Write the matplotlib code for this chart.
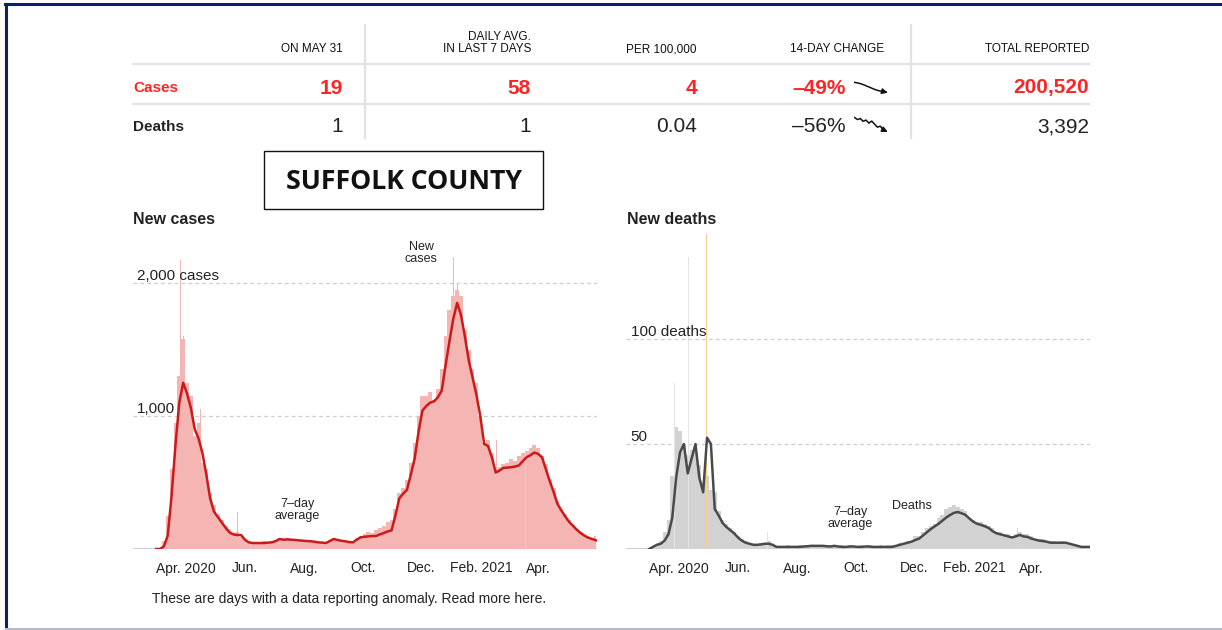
import matplotlib
matplotlib.use("Agg")
import matplotlib.pyplot as plt
from matplotlib.lines import Line2D
from matplotlib.patches import Rectangle
import pandas as pd

W, H = 1222, 630

# ---- data (one value every 4 days from Mar 1 2020) ----
grid_start = "2020-03-01"
grid_step = "4D"

case_bars = [
    0, 10, 60, 250, 600, 950, 1300, 1580, 1250, 1150, 850, 950, 650, 600, 420, 330,
    260, 220, 170, 150, 120, 130, 90, 70, 55, 50, 55, 48, 60, 52, 62, 70,
    85, 75, 80, 75, 72, 70, 66, 65, 60, 62, 55, 50, 52, 70, 85, 72,
    65, 62, 58, 55, 85, 100, 110, 130, 120, 140, 160, 170, 200, 220, 300, 420,
    460, 520, 650, 800, 1000, 1150, 1150, 1180, 1120, 1200, 1350, 1600, 1800, 1900, 1950, 1900,
    1650, 1500, 1350, 1250, 1000, 800, 820, 720, 600, 620, 640, 650, 680, 660, 700, 720,
    740, 760, 780, 760, 700, 640, 530, 460, 360, 300, 260, 220, 180, 150, 130, 105,
    90, 80, 100,
]
case_avg = [
    0, 0, 20, 100, 400, 780, 1100, 1250, 1170, 1060, 900, 830, 720, 560, 380, 280,
    240, 200, 160, 125, 110, 105, 105, 70, 50, 45, 45, 45, 45, 48, 50, 60,
    75, 70, 72, 70, 68, 65, 62, 60, 58, 55, 50, 48, 45, 60, 75, 68,
    62, 58, 52, 50, 70, 88, 92, 95, 97, 98, 110, 120, 132, 140, 250, 380,
    415, 445, 560, 680, 880, 1040, 1075, 1100, 1110, 1140, 1190, 1380, 1560, 1730, 1850, 1760,
    1600, 1420, 1290, 1160, 1000, 790, 775, 690, 575, 590, 610, 612, 615, 620, 628, 660,
    690, 705, 725, 715, 690, 600, 510, 430, 340, 290, 245, 205, 175, 145, 120, 100,
    85, 75, 65,
]
case_spike_dates = ["2020-03-26", "2020-03-29", "2020-04-16", "2020-05-24", "2020-11-20",
                    "2021-01-03", "2021-01-07", "2021-01-10", "2021-02-17", "2021-04-06"]
case_spike_vals = [2170, 1600, 1050, 280, 450, 2195, 2000, 2170, 820, 930]
case_anomaly_dates = ["2021-03-19"]
case_anomaly_vals = [730]

death_bars = [
    0, 0.5, 2, 4, 8, 14, 35, 58, 56, 50, 45, 47, 48, 40, 32, 35,
    28, 27, 18, 14, 12, 10, 8, 6, 5, 4, 3, 2, 2, 3, 2, 4,
    2, 1, 1, 1, 2, 1, 1, 2, 1, 2, 2, 1, 2, 2, 1, 2,
    1, 1, 2, 1, 2, 1, 1, 2, 1, 2, 1, 1, 2, 1, 2, 2,
    2, 3, 3, 4, 4, 6, 6, 8, 10, 11, 12, 15, 16, 19, 20, 21,
    20, 19, 18, 15, 14, 13, 13, 12, 11, 10, 8, 8, 7, 7, 6, 7,
    8, 7, 7, 6, 5, 5, 5, 4, 4, 4, 3, 4, 3, 3, 2, 2,
    1, 1, 1,
]
death_avg = [
    0, 1, 2, 2.5, 4, 7, 15, 34, 46, 50, 36, 43, 50, 34, 27, 53,
    50, 19, 16, 12.5, 10.5, 9, 7.5, 5.5, 4, 3, 2.5, 2, 2, 2.2, 2.5, 2.5,
    2, 1, 1, 1, 1, 1, 1, 1, 1.2, 1.3, 1.5, 1.5, 1.5, 1.5, 1.3, 1.2,
    1.5, 1.2, 1, 1, 1.2, 1.2, 1, 1, 1.2, 1.2, 1, 1, 1, 1, 1, 1,
    1.5, 2, 2.5, 3, 3.5, 4.3, 5, 6.5, 8, 9.5, 10.8, 12, 13.5, 15, 16.2, 17.2,
    17.6, 17, 16.2, 14.5, 13, 12, 11.5, 10.8, 10, 8.5, 7.5, 7, 6.5, 6, 5.5, 6,
    6.7, 6, 5.8, 5, 4.5, 4, 3.8, 3.5, 3, 3, 3, 3, 3, 2.5, 2, 1.5,
    1, 1, 1,
]
death_spike_dates = ["2020-03-27", "2020-04-11", "2020-07-02"]
death_spike_vals = [79, 139, 8]
death_anomaly_dates = ["2020-04-29", "2020-06-23", "2021-03-18"]
death_anomaly_vals = [150, 2, 10]

tick_dates = ["2020-04-01", "2020-06-01", "2020-08-01", "2020-10-01",
              "2020-12-01", "2021-02-01", "2021-04-01"]
tick_labels = ["Apr. 2020", "Jun.", "Aug.", "Oct.", "Dec.", "Feb. 2021", "Apr."]

# summary table
col_headers = ["ON MAY 31", "DAILY AVG.\nIN LAST 7 DAYS", "PER 100,000",
               "14-DAY CHANGE", "TOTAL REPORTED"]
row_names = ["Cases", "Deaths"]
case_row = ["19", "58", "4", "\u201349%", "200,520"]
death_row = ["1", "1", "0.04", "\u201356%", "3,392"]
case_trend = [10, 9.8, 9.5, 9.1, 8.6, 8.1, 7.6, 7.1, 6.7, 6.4, 6.2, 6.0]
death_trend = [10, 9.2, 9.6, 8.5, 9.0, 7.8, 8.6, 7.4, 6.2, 6.6, 5.2, 4.6]

RED = "#ff2424"
CASE_LINE = "#cc1a1a"
CASE_FILL = "#f4b5b3"
DEATH_LINE = "#4a4a4a"
DEATH_FILL = "#d2d2d2"
ANOMALY = "#fbd08a"
GRID = "#cfcfcf"
TEXT = "#222222"

SANS = ["Liberation Sans", "DejaVu Sans"]
NARROW = ["Liberation Sans Narrow", "Liberation Sans", "DejaVu Sans"]
plt.rcParams["font.family"] = SANS

fig = plt.figure(figsize=(W / 100, H / 100), dpi=100)


def fx(x):
    return x / W


def fy(y):
    return 1 - y / H


def text(x, y, s, **kw):
    kw.setdefault("color", TEXT)
    fig.text(fx(x), fy(y), s, **kw)


def hline(x0, x1, y, **kw):
    fig.add_artist(Line2D([fx(x0), fx(x1)], [fy(y), fy(y)], **kw))


def vline(x, y0, y1, **kw):
    fig.add_artist(Line2D([fx(x), fx(x)], [fy(y0), fy(y1)], **kw))


def add_box(x0, y0, x1, y1):
    return fig.add_axes([fx(x0), fy(y1), (x1 - x0) / W, (y1 - y0) / H])


# ---- frame of the slide ----
hline(5, W, 4, color="#0b2260", lw=2.2)
vline(6, 4, H, color="#0b2260", lw=2.2)
hline(6, W, 629, color="#b4bccb", lw=1.5)

# ---- summary table ----
cols_right = [343, 531, 697, 846, 1089]
for xr, head in zip(cols_right, col_headers):
    if xr == 846:
        xr = 884
    text(xr, 52, head, ha="right", va="baseline", fontsize=8.5,
         family=NARROW, linespacing=1.0, color="#111111")
hline(133, 1089, 64, color="#e2e2e2", lw=1.6)
hline(133, 1089, 104, color="#e2e2e2", lw=1.6)
vline(365, 25, 138, color="#e2e2e2", lw=1.6)
vline(911, 25, 138, color="#e2e2e2", lw=1.6)

text(133, 88, row_names[0], ha="left", va="center", fontsize=11,
     weight="bold", color=RED)
text(133, 127, row_names[1], ha="left", va="center", fontsize=11,
     weight="bold", color=TEXT)
for xr, v in zip(cols_right, case_row):
    text(xr, 88, v, ha="right", va="center", fontsize=15, weight="bold", color=RED)
for xr, v in zip(cols_right, death_row):
    text(xr, 127, v, ha="right", va="center", fontsize=15, color=TEXT)

for trend, (y0, y1) in [(case_trend, (80, 98)), (death_trend, (115, 134))]:
    sp = add_box(854, y0, 890, y1)
    sp.plot(range(len(trend)), trend, color="#111111", lw=1.1)
    sp.annotate("", xy=(len(trend) - 1 + 0.6, trend[-1] - 0.3),
                xytext=(len(trend) - 2, trend[-2]),
                arrowprops=dict(arrowstyle="-|>", color="#111111", lw=1.1,
                                mutation_scale=8, shrinkA=0, shrinkB=0))
    sp.set_xlim(-0.2, len(trend) + 0.4)
    sp.set_ylim(3.5, 11)
    sp.axis("off")

# ---- county label ----
fig.add_artist(Rectangle((fx(264), fy(209)), (543 - 264) / W, (209 - 151) / H,
                         transform=fig.transFigure, fill=False,
                         edgecolor="#111111", lw=1))
text(403.5, 182, "SUFFOLK COUNTY", ha="center", va="center", fontsize=19.2,
     weight="bold", family=["Open Sans", "DejaVu Sans"], color="#111111")

# ---- charts ----
xlim = (pd.Timestamp("2020-02-06"), pd.Timestamp("2021-06-01"))
grid_dates = pd.date_range(grid_start, periods=len(case_avg), freq=grid_step)


def style_axis(ax, ymax, gridvals):
    ax.set_xlim(*xlim)
    ax.set_ylim(0, ymax)
    for s in ax.spines.values():
        s.set_visible(False)
    ax.set_yticks([])
    ax.set_xticks(pd.to_datetime(tick_dates))
    ax.set_xticklabels(tick_labels, fontsize=10, color=TEXT)
    ax.tick_params(axis="x", length=0, pad=9)
    ax.patch.set_alpha(0)
    for g in gridvals:
        ax.axhline(g, color=GRID, lw=0.9, ls=(0, (3, 2.5)), zorder=0)
    ax.axhline(0, color="#d0d0d0", lw=2.2, zorder=0)


# new cases
axc = add_box(133, 240, 597, 549)
style_axis(axc, 309 / 0.133, [1000, 2000])
axc.fill_between(grid_dates, case_bars, step="mid", color=CASE_FILL, lw=0, zorder=1)
axc.bar(pd.to_datetime(case_spike_dates), case_spike_vals, width=0.9,
        color=CASE_FILL, lw=0, zorder=1)
axc.bar(pd.to_datetime(case_anomaly_dates), case_anomaly_vals, width=1.2,
        color=ANOMALY, lw=0, zorder=2)
axc.plot(grid_dates, case_avg, color=CASE_LINE, lw=1.8, zorder=3)
ty = axc.get_yaxis_transform()
axc.text(0.008, 2000 + 22, "2,000 cases", transform=ty, fontsize=11,
         va="baseline", ha="left", color=TEXT, zorder=4)
axc.text(0.008, 1000 + 22, "1,000", transform=ty, fontsize=11,
         va="baseline", ha="left", color=TEXT, zorder=4)

# new deaths
axd = add_box(626, 230, 1090, 549)
style_axis(axd, 319 / 2.1, [50, 100])
axd.fill_between(grid_dates, death_bars, step="mid", color=DEATH_FILL, lw=0, zorder=1)
axd.bar(pd.to_datetime(death_spike_dates), death_spike_vals, width=0.9,
        color="#e4e4e4", lw=0, zorder=2)
axd.bar(pd.to_datetime(death_anomaly_dates), death_anomaly_vals, width=1.0,
        color=ANOMALY, lw=0, zorder=2)
axd.plot(grid_dates, death_avg, color=DEATH_LINE, lw=1.8, zorder=3)
ty = axd.get_yaxis_transform()
axd.text(0.01, 100 + 1.4, "100 deaths", transform=ty, fontsize=11,
         va="baseline", ha="left", color=TEXT, zorder=4)
axd.text(0.01, 50 + 1.4, "50", transform=ty, fontsize=11,
         va="baseline", ha="left", color=TEXT, zorder=4)

# titles and notes
text(133, 220, "New cases", ha="left", va="center", fontsize=11.5, weight="bold")
text(627, 220, "New deaths", ha="left", va="center", fontsize=11.5, weight="bold")
text(421, 253, "New\ncases", ha="center", va="center", fontsize=9, linespacing=1.05)
text(297, 510, "7\u2013day\naverage", ha="center", va="center", fontsize=9,
     linespacing=1.05)
text(850, 518, "7\u2013day\naverage", ha="center", va="center", fontsize=9,
     linespacing=1.05)
text(912, 506, "Deaths", ha="center", va="center", fontsize=9)
text(152, 599, "These are days with a data reporting anomaly. Read more here.",
     ha="left", va="center", fontsize=10)

fig.savefig("out.png", dpi=100)
